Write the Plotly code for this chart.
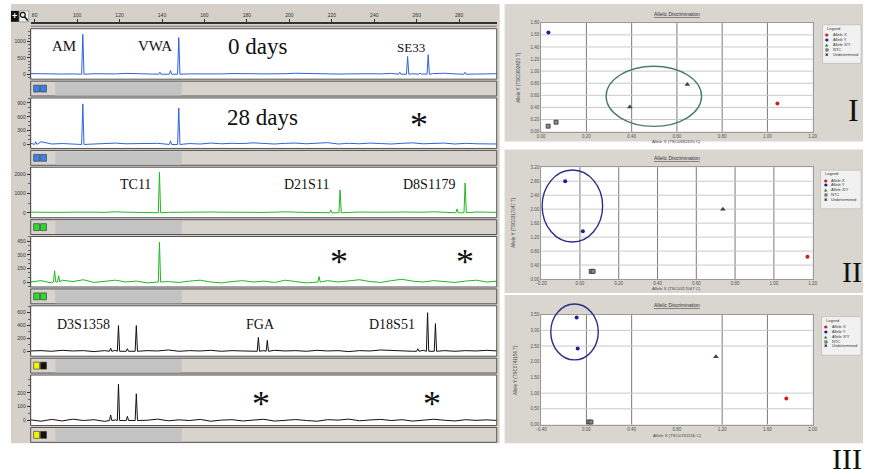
import plotly.graph_objects as go

W, H = 870, 475
def fx(x): return x / W
def fy(y): return 1 - y / H

# ---------------- electropherogram data ----------------
ruler_ticks = [80, 100, 120, 140, 160, 180, 200, 220, 240, 260, 280]
noise_bp = list(range(78, 299, 5))

noise_0d_blue = [20,10,15,5,10, 20,15,5,10,25, 15,10,5,20,30, 10,5,15,10,20, 25,15,10,5,15, 30,20,10,15,5, 10,20,15,10,25, 5,15,10,20,30, 10,15,5,10,15]
noise_28d_blue = [30,60,10,20,15,25,10,20,30,15, 20,10,25,35,15, 20,10,30,15,25, 20,35,15,10,25, 30,15,20,40,10, 25,15,30,20,10, 25,35,15,20,30, 10,25,15,20,10]
noise_0d_green = [30,20,40,20,30, 40,30,20,50,30, 20,30,40,20,30, 30,20,40,30,20, 40,30,20,30,50, 30,20,40,30,20, 30,40,30,20,30, 40,20,30,50,30, 20,30,40,30,20]
noise_28d_green = [0,15,-10,20,5, 25,-5,10,20,0, 10,-10,15,5,-5, 10,20,0,-10,5, 15,0,10,-5,20, 5,-10,10,15,0, 10,25,5,-5,15, 30,10,0,15,5, -5,10,20,0,10]
noise_0d_black = [5,10,0,15,5, 10,-5,10,15,5, 0,10,5,20,0, 10,5,15,0,10, 5,-5,10,15,5, 10,0,15,5,10, -5,10,5,20,10, 5,0,15,5,10, 0,10,5,15,5]
noise_28d_black = [5,-5,8,-3,10, 0,6,-6,4,8, -4,2,10,-2,5, 0,8,-5,3,6, -3,5,9,-4,2, 7,0,-5,6,3, 10,-2,4,8,0, 6,-4,3,9,2, -3,6,1,5,0]

peaks_0d_blue_bp = [102.7, 139.0, 144.0, 147.9, 252.0, 255.7, 261.5, 265.4, 282.8]
peaks_0d_blue_h = [1220, 60, 110, 1120, 60, 545, 40, 600, 60]
peaks_28d_blue_bp = [80.5, 102.7, 144.0, 147.9]
peaks_28d_blue_h = [60, 880, 80, 790]
peaks_0d_green_bp = [138.8, 219.5, 223.9, 279.0, 282.8]
peaks_0d_green_h = [2100, 150, 1180, 200, 1540]
peaks_28d_green_bp = [89.4, 91.3, 138.8, 214.0]
peaks_28d_green_h = [124, 69, 440, 60]
peaks_0d_black_bp = [115.8, 119.5, 123.7, 127.9, 185.4, 189.6, 260.5, 265.1, 268.8]
peaks_0d_black_h = [50, 400, 40, 400, 215, 170, 40, 600, 430]
peaks_28d_black_bp = [115.8, 119.5, 123.7, 127.9]
peaks_28d_black_h = [40, 264, 30, 193]

panel_noise = [noise_0d_blue, noise_28d_blue, noise_0d_green, noise_28d_green, noise_0d_black, noise_28d_black]
panel_peak_bp = [peaks_0d_blue_bp, peaks_28d_blue_bp, peaks_0d_green_bp, peaks_28d_green_bp, peaks_0d_black_bp, peaks_28d_black_bp]
panel_peak_h = [peaks_0d_blue_h, peaks_28d_blue_h, peaks_0d_green_h, peaks_28d_green_h, peaks_0d_black_h, peaks_28d_black_h]
panel_yticks = [[0, 500, 1000], [0, 300, 600, 900], [0, 1000, 2000], [0, 150, 300, 450], [0, 200, 400, 600], [0, 100, 200]]

locus_labels = ["AM", "VWA", "SE33", "TC11", "D21S11", "D8S1179", "D3S1358", "FGA", "D18S51"]
day_labels = ["0 days", "28 days"]

# ---------------- allelic discrimination data ----------------
I_alleleX_x, I_alleleX_y = [1.044], [0.466]
I_alleleY_x, I_alleleY_y = [0.032], [1.64]
I_het_x, I_het_y = [0.392, 0.646], [0.407, 0.78]
I_ntc_x, I_ntc_y = [0.031, 0.066], [0.09, 0.156]

II_alleleX_x, II_alleleX_y = [1.173], [0.64]
II_alleleY_x, II_alleleY_y = [-0.076, 0.015], [2.80, 1.37]
II_het_x, II_het_y = [0.737], [2.0]
II_ntc_x, II_ntc_y = [0.058, 0.068], [0.22, 0.22]

III_alleleX_x, III_alleleX_y = [1.767], [0.83]
III_alleleY_x, III_alleleY_y = [-0.086, -0.077], [3.41, 2.42]
III_het_x, III_het_y = [1.145], [2.16]
III_ntc_x, III_ntc_y = [0.022, 0.040], [0.08, 0.08]

I_xticks = [0.0, 0.2, 0.4, 0.6, 0.8, 1.0, 1.2]
I_yticks = [0.0, 0.2, 0.4, 0.6, 0.8, 1.0, 1.2, 1.4, 1.6, 1.8]
II_xticks = [-0.2, 0.0, 0.2, 0.4, 0.6, 0.8, 1.0, 1.2]
II_yticks = [0.0, 0.4, 0.8, 1.2, 1.6, 2.0, 2.4, 2.8, 3.2]
III_xticks = [-0.4, 0.0, 0.4, 0.8, 1.2, 1.6, 2.0]
III_yticks = [0.0, 0.5, 1.0, 1.5, 2.0, 2.5, 3.0, 3.5]

I_vgrid = [0.2, 0.4, 0.6, 0.8, 1.0]
I_hgrid = [0.2, 0.4, 0.6, 0.8, 1.0, 1.2, 1.4, 1.6]
II_vgrid = [0.0, 0.2, 0.4, 0.6, 0.8, 1.0]
II_hgrid = [0.4, 0.8, 1.2, 1.6, 2.0, 2.4, 2.8]
III_vgrid = [0.0, 0.4, 1.2, 1.6]
III_hgrid = [0.5, 1.0, 2.5, 3.0]

# cluster ellipses: centre x, centre y, radius x, radius y
I_ellipse = [0.498, 0.584, 0.211, 0.498]
II_ellipse = [-0.039, 2.09, 0.156, 1.03]
III_ellipse = [-0.105, 2.95, 0.21, 0.89]

legend_entries = ["Allele X", "Allele Y", "Allele X/Y", "NTC", "Undetermined"]
snp_x_titles = ["Allele X (TSC0692420 C)", "Allele X (TSC0317047 C)", "Allele X (TSC0741156 C)"]
snp_y_titles = ["Allele Y (TSC0692423 T)", "Allele Y (TSC0317047 T)", "Allele Y (TSC0741156 T)"]
panel_numerals = ["I", "II", "III"]

# ---------------- styling ----------------
SERIF = "Liberation Serif"
SANS = "Liberation Sans"
GRAY = "#d5d1ca"
trace_colors = ["#2e63dc", "#2e63dc", "#1fb81f", "#1fb81f", "#111111", "#111111"]
icon_colors = [("#3f80e8", "#3f80e8"), ("#3f80e8", "#3f80e8"), ("#2fd82f", "#2fd82f"),
               ("#2fd82f", "#2fd82f"), ("#f4f400", "#111111"), ("#f4f400", "#111111")]
y_ranges = [[-152, 1394], [-86, 1007], [-256, 2359], [-55, 504], [-77, 708], [-36, 329]]
minor_dt = [100, 100, 500, 50, 100, 50]
PX0, PX1 = 25, 497
def bp_at(x): return 100 + (x - 72) / 2.15
XR = [bp_at(PX0), bp_at(PX1)]

fig = go.Figure()
layout = dict(width=W, height=H, margin=dict(l=0, r=0, t=0, b=0), autosize=False,
              paper_bgcolor="white", plot_bgcolor="white", showlegend=False)
shapes = []
annotations = []

def rect(x0, y0, x1, y1, fill=None, line=None, lw=1, layer="above"):
    d = dict(type="rect", xref="paper", yref="paper", x0=fx(x0), x1=fx(x1), y0=fy(y1), y1=fy(y0),
             layer=layer, line=dict(width=lw if line else 0, color=line or "rgba(0,0,0,0)"))
    if fill:
        d["fillcolor"] = fill
    shapes.append(d)

def text(t, x, y, size, family=SERIF, color="#111", angle=0, xanchor="center"):
    annotations.append(dict(text=t, x=fx(x), y=fy(y), xref="paper", yref="paper", showarrow=False,
                            font=dict(size=size, family=family, color=color), textangle=angle,
                            xanchor=xanchor, yanchor="middle"))

# backgrounds
rect(5, 2, 500, 446, fill=GRAY, layer="below")
rect(505, 2, 868, 141, fill="#d9d6d0", layer="below")
rect(505, 149, 868, 294, fill="#d9d6d0", layer="below")
rect(505, 296, 868, 446, fill="#d9d6d0", layer="below")

# ---------------- electropherogram panels ----------------
def trace_xy(noise, pbp, ph, half=0.55):
    pts = [(b, v) for b, v in zip(noise_bp, noise) if all(abs(b - p) > 1.0 for p in pbp)]
    for p, h in zip(pbp, ph):
        pts += [(p - half, 0), (p, h), (p + half, 0)]
    pts.sort()
    return [a for a, _ in pts], [b for _, b in pts]

for k in range(6):
    top = 27 + 70 * k
    bot = 78 + 70 * k
    n = k + 1
    rect(PX0, top, PX1, bot, fill="white", layer="below")
    xs, ys = trace_xy(panel_noise[k], panel_peak_bp[k], panel_peak_h[k])
    fig.add_trace(go.Scatter(x=xs, y=ys, xaxis=f"x{n}", yaxis=f"y{n}", mode="lines",
                             line=dict(color=trace_colors[k], width=1), hoverinfo="skip"))
    layout["xaxis" if n == 1 else f"xaxis{n}"] = dict(domain=[fx(PX0), fx(PX1)], range=XR,
                                                     anchor=f"y{n}", visible=False)
    layout["yaxis" if n == 1 else f"yaxis{n}"] = dict(
        domain=[fy(bot), fy(top)], range=y_ranges[k], anchor=f"x{n}",
        tickmode="array", tickvals=panel_yticks[k], ticks="outside", ticklen=3, tickcolor="#333",
        showline=True, linecolor="#444", linewidth=1, showgrid=False, zeroline=False,
        tickfont=dict(size=5, family=SANS, color="#333"),
        minor=dict(ticks="outside", ticklen=1.5, tickcolor="#666", dtick=minor_dt[k], tick0=0))
    rect(PX0, top, PX1, bot, line="#555", lw=1)
    # toolbar strip
    rect(PX0, 80 + 70 * k, PX1, 95 + 70 * k, fill="#d8d4cd", line="#555", lw=1)
    rect(50, 81 + 70 * k, 178, 94.5 + 70 * k, fill="#c3c3c3")
    c1, c2 = icon_colors[k]
    rect(28, 84 + 70 * k, 34, 91 + 70 * k, fill=c1, line="#333", lw=0.6)
    rect(35, 84 + 70 * k, 41, 91 + 70 * k, fill=c2, line="#333", lw=0.6)

# ruler
layout["xaxis7"] = dict(domain=[fx(PX0), fx(PX1)], range=XR, anchor="y7", side="top",
                        tickmode="array", tickvals=ruler_ticks, ticks="outside", ticklen=3,
                        tickcolor="#333", showline=True, linecolor="#333", linewidth=2,
                        showgrid=False, zeroline=False, tickfont=dict(size=5, family=SANS, color="#333"))
layout["yaxis7"] = dict(domain=[fy(23), fy(22)], anchor="x7", visible=False)
fig.add_trace(go.Scatter(x=[None], y=[None], xaxis="x7", yaxis="y7"))
shapes.append(dict(type="line", xref="paper", yref="paper", x0=fx(PX0), x1=fx(PX1), y0=fy(24.5), y1=fy(24.5),
                   line=dict(color="#777", width=1)))
# zoom icons
rect(5, 9, 13, 20, fill="#111")
text("<b>+</b>", 9, 14.2, 9, family=SANS, color="white")
rect(13.5, 9, 23, 20, fill="#f2f2f2", line="#666", lw=0.5)
shapes.append(dict(type="circle", xref="paper", yref="paper", x0=fx(14.5), x1=fx(19.5), y0=fy(15.5), y1=fy(10.5),
                   line=dict(color="#111", width=1.2)))
shapes.append(dict(type="line", xref="paper", yref="paper", x0=fx(18.8), x1=fx(22), y0=fy(14.8), y1=fy(18.8),
                   line=dict(color="#111", width=1.6)))

# electropherogram labels
text(locus_labels[0], 58.5, 44, 15)
text(locus_labels[1], 151, 44, 15)
text(day_labels[0], 255, 45, 23)
text(locus_labels[2], 410, 46, 13)
text(day_labels[1], 260, 117, 23)
text(locus_labels[3], 131, 184, 14)
text(locus_labels[4], 304, 184, 14)
text(locus_labels[5], 428, 184, 14)
text(locus_labels[6], 78, 326, 14)
text(locus_labels[7], 258, 326, 14)
text(locus_labels[8], 391, 326, 14)
for (ax, ay) in [(418, 118), (337, 257), (465, 257), (258, 400), (431, 400)]:
    text("*", ax, ay + 6, 36)

# ---------------- allelic discrimination plots ----------------
snp_sets = [
    dict(n=8, dom_x=(542, 817), dom_y=(21, 131), xr=[0, 1.2], yr=[0, 1.8],
         xt=I_xticks, yt=I_yticks, vg=I_vgrid, hg=I_hgrid, ell=I_ellipse, ell_col="#4d7d62",
         pts=[(I_alleleX_x, I_alleleX_y), (I_alleleY_x, I_alleleY_y), (I_het_x, I_het_y), (I_ntc_x, I_ntc_y)],
         title_y=12, xt_y=140.5, yt_x=519, leg=(827, 23, 866, 62), num=(858, 109, 32)),
    dict(n=9, dom_x=(542, 817), dom_y=(167, 280), xr=[-0.2, 1.2], yr=[0, 3.2],
         xt=II_xticks, yt=II_yticks, vg=II_vgrid, hg=II_hgrid, ell=II_ellipse, ell_col="#2d2d88",
         pts=[(II_alleleX_x, II_alleleX_y), (II_alleleY_x, II_alleleY_y), (II_het_x, II_het_y), (II_ntc_x, II_ntc_y)],
         title_y=158, xt_y=289.5, yt_x=514, leg=(825, 170, 866, 209), num=(857, 272, 30)),
    dict(n=10, dom_x=(542, 817), dom_y=(316, 427), xr=[-0.4, 2.0], yr=[0, 3.5],
         xt=III_xticks, yt=III_yticks, vg=III_vgrid, hg=III_hgrid, ell=III_ellipse, ell_col="#2d2d88",
         pts=[(III_alleleX_x, III_alleleX_y), (III_alleleY_x, III_alleleY_y), (III_het_x, III_het_y), (III_ntc_x, III_ntc_y)],
         title_y=306, xt_y=438.5, yt_x=516, leg=(826, 318, 866, 357), num=(852, 461, 30)),
]
marker_styles = [
    dict(symbol="circle", size=4, color="#cc2020", line=dict(width=0)),
    dict(symbol="circle", size=4, color="#1c1ca0", line=dict(width=0)),
    dict(symbol="triangle-up", size=5, color="#2f4f2f", line=dict(width=0)),
    dict(symbol="square", size=4, color="#8a8a8a", line=dict(width=0.8, color="#333")),
]
legend_syms = [("●", "#cc2020"), ("●", "#1c1ca0"), ("▲", "#2a7a2a"), ("■", "#777"), ("✖", "#111")]

for i, s in enumerate(snp_sets):
    n = s["n"]
    rect(s["dom_x"][0], s["dom_y"][0], s["dom_x"][1], s["dom_y"][1], fill="white", layer="below")
    layout[f"xaxis{n}"] = dict(domain=[fx(s["dom_x"][0]), fx(s["dom_x"][1])], range=s["xr"], anchor=f"y{n}",
                               tickmode="array", tickvals=s["xt"], tickformat=".2f", ticks="",
                               showline=True, mirror=True, linecolor="#9a9a9a", showgrid=False, zeroline=False,
                               tickfont=dict(size=4.5, family=SANS, color="#555"))
    layout[f"yaxis{n}"] = dict(domain=[fy(s["dom_y"][1]), fy(s["dom_y"][0])], range=s["yr"], anchor=f"x{n}",
                               tickmode="array", tickvals=s["yt"], tickformat=".2f", ticks="",
                               showline=True, mirror=True, linecolor="#9a9a9a", showgrid=False, zeroline=False,
                               tickfont=dict(size=4.5, family=SANS, color="#555"))
    for gx in s["vg"]:
        shapes.append(dict(type="line", xref=f"x{n}", yref=f"y{n} domain", x0=gx, x1=gx, y0=0, y1=1,
                           layer="below", line=dict(color="#7a7a7a", width=1)))
    for gy in s["hg"]:
        shapes.append(dict(type="line", xref=f"x{n} domain", yref=f"y{n}", x0=0, x1=1, y0=gy, y1=gy,
                           layer="below", line=dict(color="#c9c9c9", width=1)))
    for (px_, py_), ms in zip(s["pts"], marker_styles):
        fig.add_trace(go.Scatter(x=px_, y=py_, xaxis=f"x{n}", yaxis=f"y{n}", mode="markers",
                                 marker=ms, hoverinfo="skip", cliponaxis=False))
    cx, cy, rx, ry = s["ell"]
    y0, y1 = s["yr"]
    shapes.append(dict(type="circle", xref=f"x{n}", yref=f"y{n} domain",
                       x0=cx - rx, x1=cx + rx,
                       y0=(cy - ry - y0) / (y1 - y0), y1=(cy + ry - y0) / (y1 - y0),
                       line=dict(color=s["ell_col"], width=1.4)))
    xm = (s["dom_x"][0] + s["dom_x"][1]) / 2
    text("<u>Allelic Discrimination</u>", xm, s["title_y"], 5, family=SANS, color="#333")
    text(snp_x_titles[i], xm, s["xt_y"], 4.3, family=SANS, color="#444")
    text(snp_y_titles[i], s["yt_x"], (s["dom_y"][0] + s["dom_y"][1]) / 2, 4.5, family=SANS, color="#444", angle=-90)
    lx0, ly0, lx1, ly1 = s["leg"]
    rect(lx0, ly0, lx1, ly1, fill="#f1f1f1", line="#b5b5b5", lw=0.6)
    text("Legend", lx0 + 2, ly0 + 3.5, 4, family=SANS, color="#333", xanchor="left")
    for j, (lab, (sym, col)) in enumerate(zip(legend_entries, legend_syms)):
        yy = ly0 + 10 + 4.9 * j
        text(f"<span style='color:{col}'>{sym}</span>", lx0 + 5, yy, 4, family="DejaVu Sans", color=col)
        text(lab, lx0 + 9, yy, 4, family=SANS, color="#333", xanchor="left")
    nx, ny, ns = s["num"]
    text(panel_numerals[i], nx, ny, ns)

layout["shapes"] = shapes
layout["annotations"] = annotations
fig.update_layout(**layout)
fig.write_html("out.html", config={"displayModeBar": False, "staticPlot": True},
               post_script="document.body.style.margin='0px';document.body.style.overflow='hidden';")
